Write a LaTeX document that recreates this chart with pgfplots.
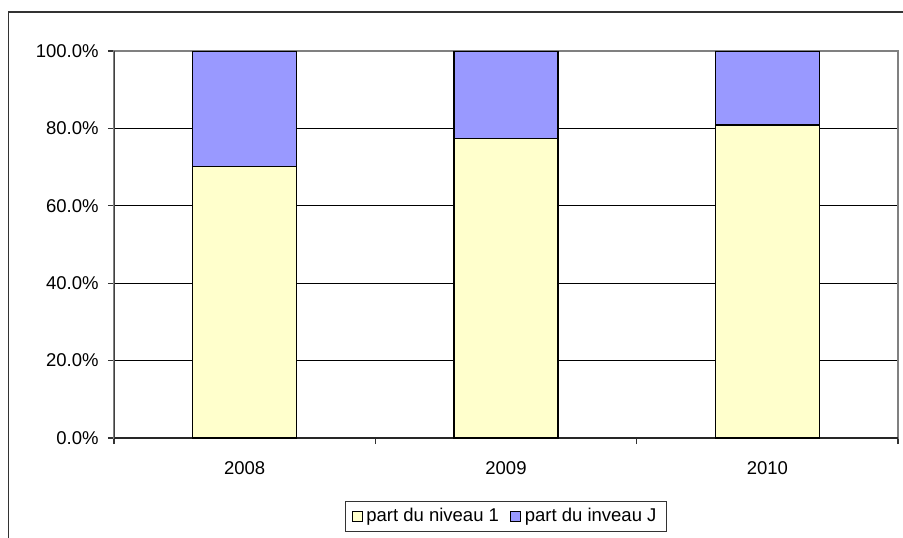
\documentclass[border=0pt]{standalone}
\usepackage{fontspec}
\setmainfont{Liberation Sans}
\usepackage{pgfplots}
\pgfplotsset{compat=1.18}
\definecolor{lvlone}{HTML}{FFFFCC}
\definecolor{lvlj}{HTML}{9999FF}
\begin{document}
\begin{tikzpicture}
\useasboundingbox (0,0) rectangle (451.5pt,268.5pt);
\draw[line width=0.75pt, black!80] (4.25pt,-2pt) -- (4.25pt,262.5pt) -- (455pt,262.5pt);
\begin{axis}[
  at={(57pt,49.5pt)}, anchor=south west,
  scale only axis, width=392pt, height=193.5pt,
  ybar stacked, bar width=52pt,
  xmin=-0.5, xmax=2.5, ymin=0, ymax=100,
  xtick={0,1,2}, xticklabels={2008,2009,2010},
  major x tick style={draw=none},
  minor xtick={-0.5,0.5,1.5,2.5},
  minor tick length=3pt,
  ytick={0,20,40,60,80,100},
  yticklabels={0.0\%,20.0\%,40.0\%,60.0\%,80.0\%,100.0\%},
  major tick length=3pt,
  tick align=outside,
  ymajorgrids, major grid style={black, line width=0.5pt},
  axis line style={black!50, line width=0.6pt},
  tick style={black!80, line width=0.6pt},
  xtick pos=bottom, ytick pos=left,
  every tick label/.append style={font=\fontsize{9.25}{11}\selectfont, text=black},
  yticklabel style={inner sep=0pt, xshift=-4.5pt},
  xticklabel style={inner sep=0pt, anchor=north, yshift=-8.5pt},
  legend style={at={(0.5,-0.203)}, anchor=center, draw=black!80, line width=0.5pt,
    font=\fontsize{9.25}{11}\selectfont, inner xsep=3pt, inner ysep=1.5pt,
    /tikz/every even column/.append style={column sep=3.5pt}},
  legend columns=2,
  legend image code/.code={\draw[#1, line width=0.4pt] (0pt,-2.5pt) rectangle (5pt,2.5pt);},
  legend cell align=left,
]
\addplot[fill=lvlone, draw=black, line width=0.7pt] coordinates {(0,70.1) (1,77.4) (2,80.9)};
\addplot[fill=lvlj, draw=black, line width=0.7pt] coordinates {(0,29.9) (1,22.6) (2,19.1)};
\legend{part du niveau 1, part du inveau J}
\draw[black!75, line width=0.7pt] (rel axis cs:0,0) -- (rel axis cs:0,1);
\draw[black!85, line width=0.7pt] (rel axis cs:0,0) -- (rel axis cs:1,0);
\end{axis}
\end{tikzpicture}
\end{document}
